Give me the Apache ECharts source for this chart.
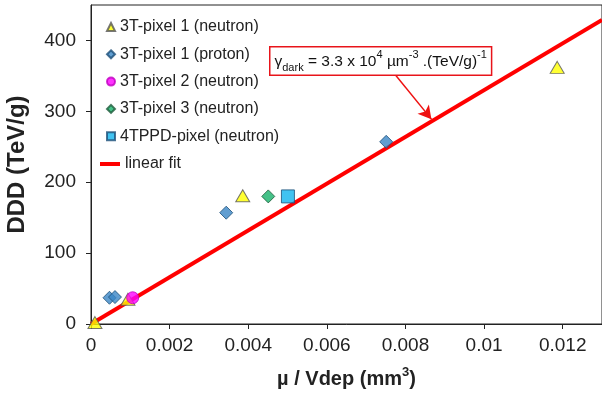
<!DOCTYPE html>
<html>
<head>
<meta charset="utf-8">
<script src="https://cdn.jsdelivr.net/npm/echarts@6/dist/echarts.min.js"></script>
<style>
  html, body { margin: 0; padding: 0; background: #fff; }
  #chart { width: 602px; height: 396px; }
</style>
</head>
<body>
<div id="chart"></div>
<script>
// Dark-count DDD versus μ/Vdep for the different pixel types
const seriesNames = [
  '3T-pixel 1 (neutron)',
  '3T-pixel 1 (proton)',
  '3T-pixel 2 (neutron)',
  '3T-pixel 3 (neutron)',
  '4TPPD-pixel (neutron)'
];
const pixel1Neutron = [[0.0001, 2], [0.00094, 35], [0.00386, 181], [0.01186, 362]];
const pixel1Proton  = [[0.00047, 37], [0.00061, 38], [0.00344, 157], [0.00751, 257]];
const pixel2Neutron = [[0.00106, 37]];
const pixel3Neutron = [[0.00451, 180]];
const ppdNeutron    = [[0.00501, 180]];

// linear fit: DDD = slope * (μ / Vdep)
const fitSlope = 3.3e4;
const fitX = [0, 0.013];

const xTicks = [0, 0.002, 0.004, 0.006, 0.008, 0.01, 0.012];
const yTicks = [0, 100, 200, 300, 400];

// annotation arrow, in data units
const arrowFrom = [0.00772, 353];
const arrowTo = [0.00866, 289];

const FONT = 'Liberation Sans, Arial, sans-serif';
const AXIS_COLOR = '#222';

const chart = echarts.init(document.getElementById('chart'), null, { renderer: 'canvas' });

const markerBase = { type: 'scatter', z: 5 };

chart.setOption({
  animation: false,
  backgroundColor: '#fff',
  textStyle: { fontFamily: FONT },
  grid: {
    left: 91, right: 0, top: 5, bottom: 72,
    outerBoundsMode: 'none',
    containLabel: false,
    show: true, borderColor: AXIS_COLOR, borderWidth: 1, backgroundColor: 'transparent'
  },
  legend: [
    {
      orient: 'vertical',
      left: 101, top: 14,
      itemWidth: 8, itemHeight: 8, itemGap: 11.3,
      textStyle: { fontFamily: FONT, fontSize: 16, color: '#222', lineHeight: 16 },
      data: [
        { name: seriesNames[0], icon: 'triangle' },
        { name: seriesNames[1], icon: 'diamond' },
        { name: seriesNames[2], icon: 'circle' },
        { name: seriesNames[3], icon: 'diamond' },
        { name: seriesNames[4], icon: 'rect' }
      ]
    },
    {
      orient: 'vertical',
      left: 95, top: 151,
      itemWidth: 20, itemHeight: 4,
      textStyle: { fontFamily: FONT, fontSize: 16, color: '#222', lineHeight: 16 },
      itemStyle: { color: '#ff0000', borderWidth: 0 },
      data: [{ name: 'linear fit', icon: 'rect' }]
    }
  ],
  xAxis: {
    type: 'value',
    min: 0, max: 0.013,
    name: 'µ / Vdep (mm{sup|3})',
    nameLocation: 'middle',
    nameGap: 42,
    nameTextStyle: {
      fontFamily: FONT, fontSize: 20, fontWeight: 'bold', color: '#222', lineHeight: 26,
      rich: { sup: { fontFamily: FONT, fontSize: 13, fontWeight: 'bold', color: '#222', verticalAlign: 'top', lineHeight: 14 } }
    },
    splitLine: { show: false },
    axisLine: { show: true, onZero: false, lineStyle: { color: AXIS_COLOR, width: 1 } },
    axisTick: { show: true, length: 5, customValues: xTicks, lineStyle: { color: AXIS_COLOR } },
    axisLabel: {
      customValues: xTicks, margin: 12,
      fontFamily: FONT, fontSize: 19, color: '#222',
      formatter: v => String(v)
    }
  },
  yAxis: {
    type: 'value',
    min: 0, max: 450,
    name: 'DDD (TeV/g)',
    nameLocation: 'middle',
    nameRotate: 90,
    nameGap: 62,
    nameTextStyle: { fontFamily: FONT, fontSize: 24, fontWeight: 'bold', color: '#222' },
    splitLine: { show: false },
    axisLine: { show: true, lineStyle: { color: AXIS_COLOR, width: 1 } },
    axisTick: { show: true, length: 5, customValues: yTicks, lineStyle: { color: AXIS_COLOR } },
    axisLabel: { customValues: yTicks, margin: 15, fontFamily: FONT, fontSize: 19, color: '#222' }
  },
  series: [
    {
      name: 'linear fit',
      type: 'line',
      z: 2,
      symbol: 'none',
      color: '#ff0000',
      lineStyle: { color: '#ff0000', width: 4 },
      data: fitX.map(x => [x, fitSlope * x]),
      markLine: {
        silent: true,
        symbol: ['none', 'arrow'],
        symbolSize: [11, 13],
        label: { show: false },
        lineStyle: { color: '#ee1111', width: 1.5, type: 'solid' },
        data: [[{ coord: arrowFrom }, { coord: arrowTo }]]
      }
    },
    Object.assign({}, markerBase, {
      name: seriesNames[0], symbol: 'triangle', symbolSize: [14, 12],
      itemStyle: { color: '#ffff00', borderColor: '#555', borderWidth: 1 },
      data: pixel1Neutron
    }),
    Object.assign({}, markerBase, {
      name: seriesNames[1], symbol: 'diamond', symbolSize: 13,
      itemStyle: { color: '#3a86c6', borderColor: '#1d4f78', borderWidth: 1 },
      data: pixel1Proton
    }),
    Object.assign({}, markerBase, {
      name: seriesNames[2], symbol: 'circle', symbolSize: 12,
      itemStyle: { color: '#ff00ff', borderColor: '#c000c0', borderWidth: 1 },
      data: pixel2Neutron
    }),
    Object.assign({}, markerBase, {
      name: seriesNames[3], symbol: 'diamond', symbolSize: 13,
      itemStyle: { color: '#17b26a', borderColor: '#1d5a3a', borderWidth: 1 },
      data: pixel3Neutron
    }),
    Object.assign({}, markerBase, {
      name: seriesNames[4], symbol: 'rect', symbolSize: 13,
      itemStyle: { color: '#12b4ee', borderColor: '#1d4f78', borderWidth: 1 },
      data: ppdNeutron
    })
  ],
  graphic: [
    {
      type: 'text',
      left: 269, top: 46,
      z: 10,
      style: {
        text: '{b|γ}{sub|dark}{b| = 3.3 x 10}{sup|4}{b| µm}{sup|-3}{b| .(TeV/g)}{sup|-1}',
        fill: '#111',
        backgroundColor: '#fff',
        borderColor: '#e8141a',
        borderWidth: 1.5,
        padding: [2, 4, 1, 4],
        rich: {
          b: { fontFamily: FONT, fontSize: 15.5, fill: '#111', lineHeight: 24, verticalAlign: 'middle' },
          sub: { fontFamily: FONT, fontSize: 11, fill: '#111', lineHeight: 14, verticalAlign: 'bottom' },
          sup: { fontFamily: FONT, fontSize: 11, fill: '#111', lineHeight: 14, verticalAlign: 'top' }
        }
      }
    }
  ]
});
</script>
</body>
</html>
